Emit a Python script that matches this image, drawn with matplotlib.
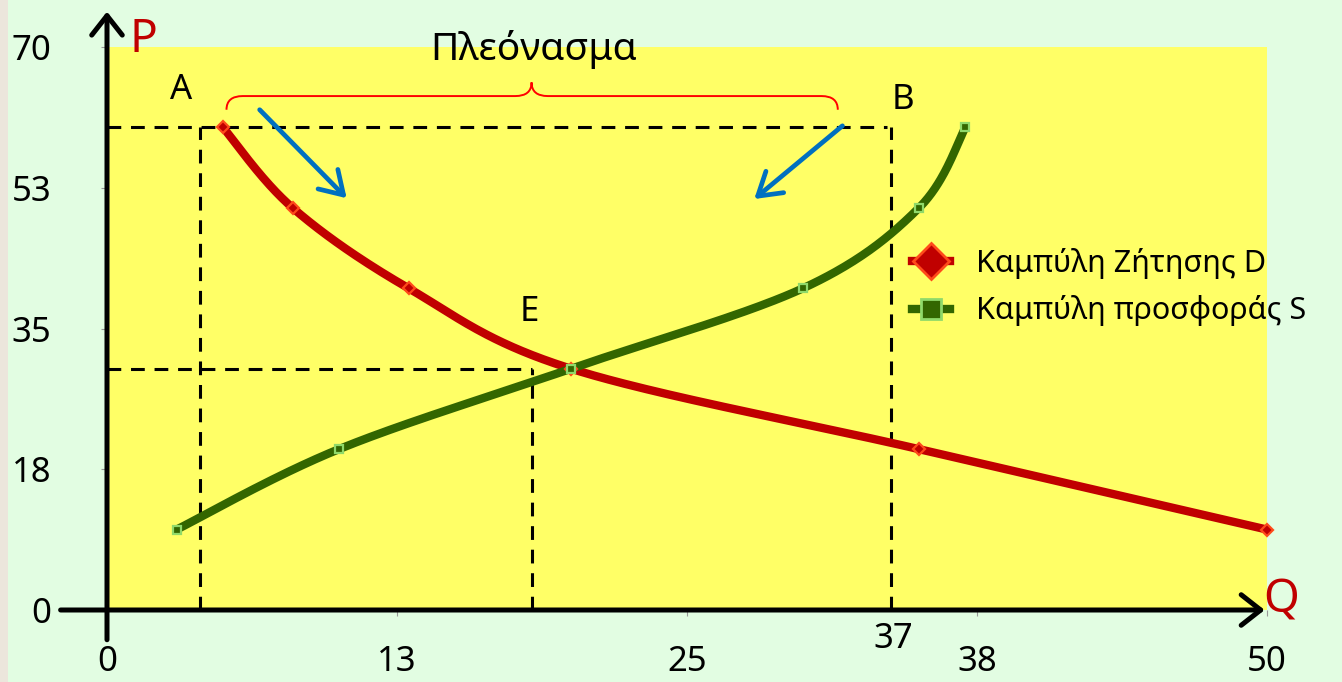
import numpy as np
import matplotlib
matplotlib.use("Agg")
import matplotlib.pyplot as plt
from matplotlib.lines import Line2D
from matplotlib.path import Path
from matplotlib.patches import PathPatch, Rectangle

plt.rcParams['font.family'] = ['Noto Sans', 'DejaVu Sans']

# Demand curve D (quantity, price)
demand_q = [5, 8, 13, 20, 35, 50]
demand_p = [60, 50, 40, 30, 20, 10]

# Supply curve S (quantity, price)
supply_q = [3, 10, 20, 30, 35, 37]
supply_p = [10, 20, 30, 40, 50, 60]

x_ticks = [0, 12.5, 25, 37.5, 50]
x_tick_labels = ['0', '13', '25', '38', '50']
y_ticks = [0, 17.5, 35, 52.5, 70]
y_tick_labels = ['0', '18', '35', '53', '70']

# Reference quantities / prices for the guide lines
p_high = 60
q_demand_high = 4
q_supply_high = 33.8
p_eq = 30
q_eq = 18.3

W, H = 1342, 682
BG = '#e2fde2'
YELLOW = '#ffff66'
RED = '#c00000'
GREEN = '#336600'
BLUE = '#0070c0'

fig = plt.figure(figsize=(W / 100, H / 100), dpi=100, facecolor=BG)
fig.patches.append(Rectangle((0, 0), 8 / W, 1, transform=fig.transFigure,
                             facecolor='#ece6dc', edgecolor='none', zorder=0))

ax = fig.add_axes([107 / W, (H - 610) / H, (1267 - 107) / W, (610 - 47) / H])
ax.set_facecolor(YELLOW)
ax.set_xlim(0, 50)
ax.set_ylim(0, 70)
for s in ax.spines.values():
    s.set_visible(False)

ax.set_xticks(x_ticks)
ax.set_xticklabels(x_tick_labels)
ax.set_yticks(y_ticks)
ax.set_yticklabels(y_tick_labels)
ax.tick_params(axis='x', length=4, color='#999999', pad=21, labelsize=25)
ax.tick_params(axis='y', length=4, color='#999999', pad=36, labelsize=25)


def smooth(qs, ps, n=60):
    """Catmull-Rom smoothing performed in screen space."""
    pts = ax.transData.transform(np.column_stack([qs, ps]))
    ext = np.vstack([pts[0], pts, pts[-1]])
    out = []
    t = np.linspace(0, 1, n)[:, None]
    for i in range(1, len(ext) - 2):
        p0, p1, p2, p3 = ext[i - 1:i + 3]
        seg = 0.5 * (2 * p1 + (-p0 + p2) * t
                     + (2 * p0 - 5 * p1 + 4 * p2 - p3) * t ** 2
                     + (-p0 + 3 * p1 - 3 * p2 + p3) * t ** 3)
        out.append(seg if i == 1 else seg[1:])
    curve = ax.transData.inverted().transform(np.vstack(out))
    return curve[:, 0], curve[:, 1]


dash = (0, (4.5, 3.2))
kw = dict(color='black', lw=2.2, linestyle=dash, zorder=2, clip_on=False)
ax.plot([0, 33.6], [p_high, p_high], **kw)
ax.plot([q_demand_high, q_demand_high], [0, p_high], **kw)
ax.plot([q_supply_high, q_supply_high], [0, p_high], **kw)
ax.plot([0, q_eq], [p_eq, p_eq], **kw)
ax.plot([q_eq, q_eq], [0, p_eq], **kw)

dq, dp = smooth(demand_q, demand_p)
ax.plot(dq, dp, color=RED, lw=6, zorder=3, solid_capstyle='butt', clip_on=False)
ax.plot(demand_q, demand_p, linestyle='none', marker='D', ms=6, mfc=RED,
        mec='#ff4a1a', mew=1.6, zorder=4, clip_on=False)

sq, sp = smooth(supply_q, supply_p)
ax.plot(sq, sp, color=GREEN, lw=6, zorder=3, solid_capstyle='butt', clip_on=False)
ax.plot(supply_q, supply_p, linestyle='none', marker='s', ms=6, mfc=GREEN,
        mec='#8fd96a', mew=1.6, zorder=4, clip_on=False)

# Axes drawn as arrows
axis_arrow = dict(arrowstyle='->,head_length=0.7,head_width=0.55', lw=3.6,
                  color='black', shrinkA=0, shrinkB=0, mutation_scale=20,
                  capstyle='round', joinstyle='round')
ax.annotate('', xy=(0, 74.4), xytext=(0, -3.7), arrowprops=axis_arrow,
            annotation_clip=False, zorder=5)
ax.annotate('', xy=(49.9, 0), xytext=(-2.0, 0), arrowprops=axis_arrow,
            annotation_clip=False, zorder=5)

fig.text(130 / W, 1 - 40 / H, 'P', color=RED, fontsize=33, ha='left', va='center')
fig.text(1263 / W, 1 - 600 / H, 'Q', color=RED, fontsize=33, ha='left', va='center')

# Point labels
ax.text(3.2, 64.7, 'A', fontsize=25, ha='center', va='center')
ax.text(34.3, 63.4, 'B', fontsize=25, ha='center', va='center')
ax.text(18.2, 37.1, 'E', fontsize=25, ha='center', va='center')
ax.text(33.9, -3.6, '37', fontsize=25, ha='center', va='center', clip_on=False)
ax.text(18.4, 69.7, 'Πλεόνασμα', fontsize=28, ha='center', va='center', clip_on=False)

# Curly brace over the surplus
x0, x1, xc = 5.15, 31.5, 18.3
yE, yH, yT = 62.2, 63.9, 65.6
rx = 0.7
verts = [(x0, yE), (x0, yH), (x0 + rx, yH),
         (xc - rx, yH), (xc, yH), (xc, yT),
         (xc, yH), (xc + rx, yH),
         (x1 - rx, yH), (x1, yH), (x1, yE)]
codes = [Path.MOVETO, Path.CURVE3, Path.CURVE3,
         Path.LINETO, Path.CURVE3, Path.CURVE3,
         Path.CURVE3, Path.CURVE3,
         Path.LINETO, Path.CURVE3, Path.CURVE3]
ax.add_patch(PathPatch(Path(verts, codes), facecolor='none', edgecolor='#ff0000',
                       lw=1.4, zorder=4))

# Price-pressure arrows
blue_arrow = dict(arrowstyle='->,head_length=0.8,head_width=0.5', lw=3.4,
                  color=BLUE, shrinkA=0, shrinkB=0, mutation_scale=20,
                  capstyle='round', joinstyle='round')
ax.annotate('', xy=(10.33, 51.2), xytext=(6.58, 62.2), arrowprops=blue_arrow, zorder=5)
ax.annotate('', xy=(27.9, 51.1), xytext=(31.7, 60.2), arrowprops=blue_arrow, zorder=5)

handles = [
    Line2D([], [], color=RED, lw=6, marker='D', ms=18, mfc=RED, mec='#ff4a1a', mew=2),
    Line2D([], [], color=GREEN, lw=6, marker='s', ms=14, mfc=GREEN, mec='#8fd96a', mew=2),
]
ax.legend(handles, ['Καμπύλη Ζήτησης D', 'Καμπύλη προσφοράς S'],
          loc='center left', bbox_to_anchor=(912 / W, 1 - 287 / H),
          bbox_transform=fig.transFigure, frameon=False, fontsize=22,
          handlelength=1.25, handletextpad=0.85, labelspacing=0.55,
          borderpad=0, borderaxespad=0)

fig.savefig('out.png', dpi=100, facecolor=BG)
